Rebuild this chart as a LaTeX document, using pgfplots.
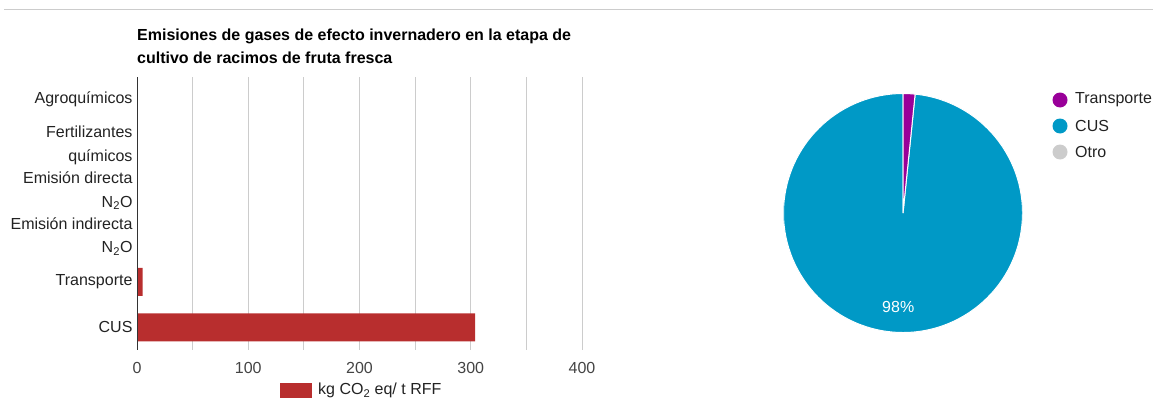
\documentclass[border=0pt]{standalone}
\usepackage{fontspec}
\setmainfont{Liberation Sans}
\usepackage{pgfplots}
\pgfplotsset{compat=1.18}
\usepackage{pgfplotstable}
\usetikzlibrary{calc}

\definecolor{barred}{HTML}{B82E2E}
\definecolor{piepurple}{HTML}{990099}
\definecolor{pieblue}{HTML}{0099C6}
\definecolor{piegrey}{HTML}{CCCCCC}
\definecolor{gridgrey}{HTML}{CCCCCC}
\definecolor{txt}{HTML}{222222}
\definecolor{ticktxt}{HTML}{444444}

% emisiones por fuente, kg CO2 eq / t RFF
\pgfplotstableread{
idx value
0 0
1 0
2 0
3 0
4 5
5 304
}\emisiones

% valores del pastel
\def\vTransporte{5}
\def\vCUS{304}
\def\vOtro{0}

\newcommand\chartfont{\fontsize{16}{19}\selectfont}

\begin{document}
\chartfont
\begin{tikzpicture}[x=1pt,y=1pt]
\useasboundingbox (0,0) rectangle (1153,400);
\draw[gridgrey] (4,390.5) -- (1153,390.5);

\node[anchor=north west, align=left, font=\bfseries\fontsize{16}{23}\selectfont, inner sep=0pt]
  at (137,371) {Emisiones de gases de efecto invernadero en la etapa de\\cultivo de racimos de fruta fresca};

\begin{axis}[
    at={(137pt,50pt)}, anchor=south west,
    scale only axis,
    width=445pt, height=273pt,
    xbar, bar width=28pt, bar shift=0pt,
    xmin=0, xmax=400,
    ymin=-0.5, ymax=5.5,
    y dir=reverse,
    xtick={0,100,...,400},
    minor xtick={50,150,250,350},
    ytick={0,...,5},
    yticklabels={Agroquímicos,{Fertilizantes\\químicos},{Emisión directa\\N\textsubscript{2}O},{Emisión indirecta\\N\textsubscript{2}O},Transporte,CUS},
    xmajorgrids, xminorgrids,
    grid style={gridgrey, line width=0.8pt},
    minor grid style={gridgrey, line width=0.8pt},
    axis line style={draw=none},
    major tick length=0pt, minor tick length=0pt,
    /pgf/number format/assume math mode=true,
    xticklabel style={font=\chartfont, text=ticktxt, yshift=-7pt},
    yticklabel style={font=\fontsize{16}{23.5}\selectfont, text=txt, align=right, xshift=1pt},
    legend style={draw=none, fill=none, inner sep=0pt,
        at={(axis description cs:0.3213,-0.1465)}, anchor=west,
        font=\chartfont, text=txt},
    legend image code/.code={\fill[barred] (0pt,-7.5pt) rectangle (32pt,7.5pt);},
]
\addplot[fill=barred, draw=none] table[x=value, y=idx] {\emisiones};
\addlegendentry{\hspace{4pt}kg CO\textsubscript{2} eq/ t RFF}
\draw[black!80, line width=1pt] (axis cs:0,-0.5) -- (axis cs:0,5.5);
\end{axis}

\begin{axis}[
    at={(903pt,187pt)}, anchor=center,
    scale only axis,
    width=239pt, height=239pt,
    xmin=-1, xmax=1, ymin=-1, ymax=1,
    hide axis,
]
\pgfmathsetmacro\total{\vTransporte+\vCUS+\vOtro}
\pgfmathsetmacro\fT{\vTransporte/\total}
\pgfmathsetmacro\fC{\vCUS/\total}
\pgfmathsetmacro\aT{90-360*\fT}
\pgfmathsetmacro\aC{\aT-360*\fC}
\pgfmathsetmacro\mC{(\aT+\aC)/2}
\pgfmathtruncatemacro\pC{round(100*\fC)}
\fill[pieblue, draw=white, line width=1pt] (axis cs:0,0) -- ++(\aT:119.5pt) arc[start angle=\aT, end angle=\aC, radius=119.5pt] -- cycle;
\fill[piepurple, draw=white, line width=1pt] (axis cs:0,0) -- ++(90:119.5pt) arc[start angle=90, end angle=\aT, radius=119.5pt] -- cycle;
\node[text=white, font=\chartfont] at ($(axis cs:0,0)+(\mC:94pt)$) {\pC\%};
\end{axis}

\foreach \lab/\col [count=\i from 0] in {Transporte/piepurple, CUS/pieblue, Otro/piegrey} {
  \fill[\col] (1060,300-26*\i) circle (7.5);
  \node[anchor=west, inner sep=0pt, text=txt] at (1075,300-26*\i) {\lab};
}
\end{tikzpicture}
\end{document}
